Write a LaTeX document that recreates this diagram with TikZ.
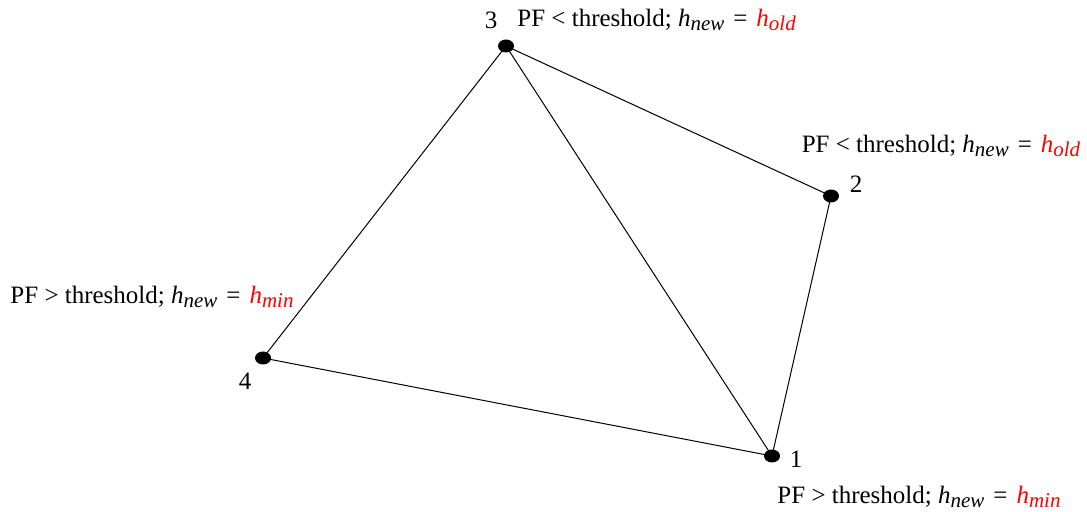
\documentclass[tikz,border=0pt]{standalone}
\usepackage{fontspec}
\setmainfont{Liberation Serif}
\usepackage{xcolor}
\usepackage{tikz}
\usetikzlibrary{positioning, shapes.geometric}

% h avec indice en italique
\newcommand{\hidx}[1]{\textit{h}\raisebox{-0.35ex}{\fontsize{10.5}{11}\selectfont\itshape #1}}
\newcommand{\eqsign}{\hspace{4.5pt}=\hspace{4.5pt}}

\begin{document}
\begin{tikzpicture}[
        x=0.5pt, y=-0.5pt,
        % Styles
        every node/.style = {font=\fontsize{12.5}{14}\selectfont},
        pointnode/.style = {
            ellipse,
            fill=black,
            inner sep=0pt,
            minimum width=8pt,
            minimum height=6.5pt
        },
        numlabel/.style = {inner sep=1pt},
        cond/.style = {inner sep=1pt},
        edge/.style = {line width=0.5pt, draw=black}
    ]
        \useasboundingbox (0,0) rectangle (1087,512);

        % 1. Placement des points
        \node (n1) [pointnode] at (772,456) {};
        \node (n2) [pointnode] at (831,196) {};
        \node (n3) [pointnode] at (506,46) {};
        \node (n4) [pointnode] at (263,358) {};

        % 2. Tracé des arêtes
        \draw [edge] (n3.center) -- (n4.center);
        \draw [edge] (n3.center) -- (n2.center);
        \draw [edge] (n3.center) -- (n1.center);
        \draw [edge] (n4.center) -- (n1.center);
        \draw [edge] (n2.center) -- (n1.center);

        % 3. Numéros des points
        \node (l1) [numlabel] at (796,459) {1};
        \node (l2) [numlabel] at (856,184) {2};
        \node (l3) [numlabel] at (491,20) {3};
        \node (l4) [numlabel] at (245,381) {4};

        % 4. Conditions
        \node (c3) [cond, anchor=west] at (515,20) {PF < threshold; \hidx{new}\eqsign\textcolor{red}{\hidx{old}}};
        \node (c2) [cond] at (941,146) {PF < threshold; \hidx{new}\eqsign\textcolor{red}{\hidx{old}}};
        \node (c4) [cond] at (152,297) {PF > threshold; \hidx{new}\eqsign\textcolor{red}{\hidx{min}}};
        \node (c1) [cond] at (919,497) {PF > threshold; \hidx{new}\eqsign\textcolor{red}{\hidx{min}}};

    \end{tikzpicture}
\end{document}
